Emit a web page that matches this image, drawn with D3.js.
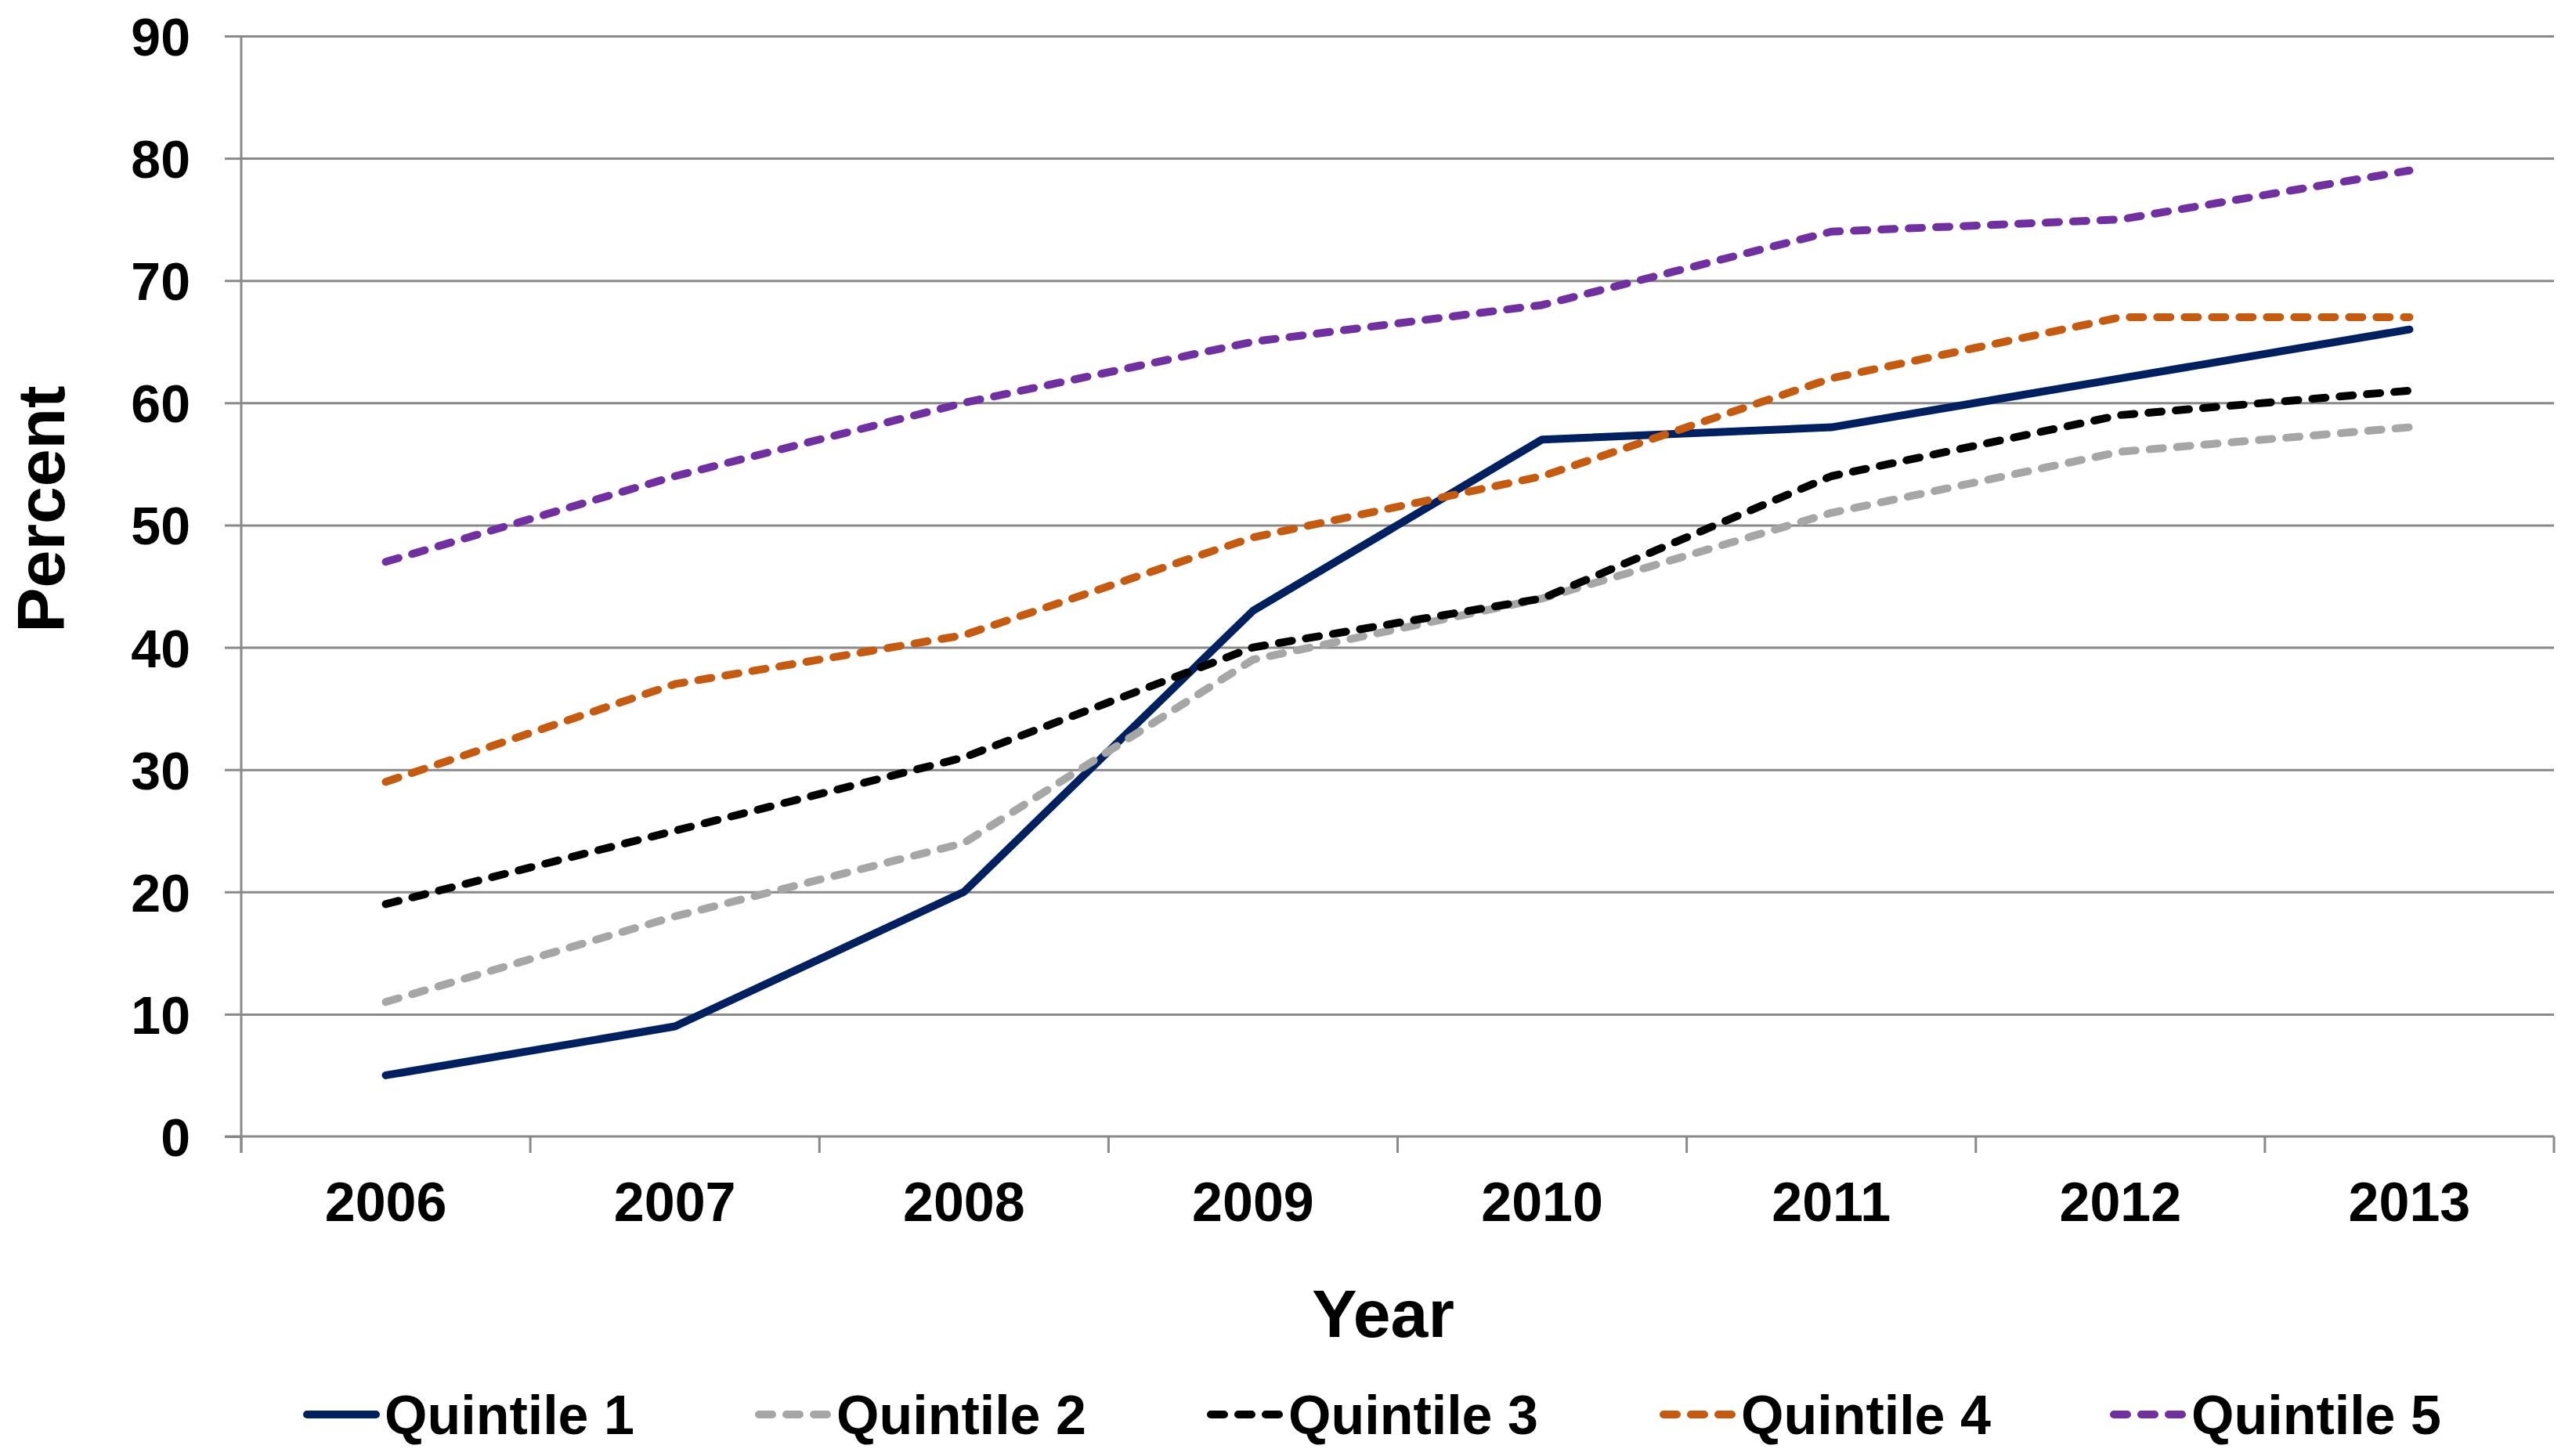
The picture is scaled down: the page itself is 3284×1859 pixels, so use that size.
<!DOCTYPE html>
<html>
<head>
<meta charset="utf-8">
<script src="https://cdn.jsdelivr.net/npm/d3@7"></script>
<style>
  html, body { margin: 0; padding: 0; background: #fff; }
  svg { display: block; }
  text { font-family: "Liberation Sans", Arial, sans-serif; font-weight: bold; fill: #000; }
</style>
</head>
<body>
<svg id="chart" width="3284" height="1859"></svg>
<script>
const years = ["2006", "2007", "2008", "2009", "2010", "2011", "2012", "2013"];
const yTicks = [0, 10, 20, 30, 40, 50, 60, 70, 80, 90];
const seriesNames = ["Quintile 1", "Quintile 2", "Quintile 3", "Quintile 4", "Quintile 5"];
const quintile1 = [5, 9, 20, 43, 57, 58, 62, 66];
const quintile2 = [11, 18, 24, 39, 44, 51, 56, 58];
const quintile3 = [19, 25, 31, 40, 44, 54, 59, 61];
const quintile4 = [29, 37, 41, 49, 54, 62, 67, 67];
const quintile5 = [47, 54, 60, 65, 68, 74, 75, 79];
const seriesValues = [quintile1, quintile2, quintile3, quintile4, quintile5];
const colors = ["#002060", "#A6A6A6", "#000000", "#C55A11", "#7030A0"];
const dashes = [null, "17,18", "17,18", "17,18", "17,18"];
const widths = [10, 10, 10, 10, 10];

const svg = d3.select("#chart");
const mLeft = 308, mRight = 3261, mTop = 46, mBottom = 1451;
const gridColor = "#898989";

const x = d3.scaleBand().domain(years).range([mLeft, mRight]).padding(0);
const y = d3.scaleLinear().domain([0, 90]).range([mBottom, mTop]);

// gridlines
const grid = svg.append("g").attr("transform", `translate(${mLeft},0)`)
  .call(d3.axisLeft(y).tickValues(yTicks.filter(v => v > 0)).tickSize(-(mRight - mLeft)).tickFormat(""));
grid.select(".domain").remove();
grid.selectAll("line").attr("stroke", gridColor).attr("stroke-width", 3);

// y axis
const yAxis = svg.append("g").attr("transform", `translate(${mLeft},0)`)
  .call(d3.axisLeft(y).tickValues(yTicks).tickSize(21).tickPadding(44).tickFormat(d3.format("d")));
yAxis.select(".domain").attr("stroke", gridColor).attr("stroke-width", 3)
  .attr("d", `M0,${mTop}V${mBottom + 21}`);
yAxis.selectAll(".tick line").attr("stroke", gridColor).attr("stroke-width", 3);
yAxis.selectAll(".tick text").style("font-size", "68px").attr("dy", "0.36em");

// x axis
const xAxis = svg.append("g").attr("transform", `translate(0,${mBottom})`)
  .call(d3.axisBottom(x).tickSize(0).tickPadding(58));
xAxis.select(".domain").attr("stroke", gridColor).attr("stroke-width", 3)
  .attr("d", `M${mLeft - 21},0H${mRight}`);
xAxis.selectAll(".tick text").style("font-size", "70px").attr("dy", "0.71em");
const boundaries = years.map(d => x(d)).concat([x.range()[1]]);
xAxis.selectAll("line.bound").data(boundaries).join("line")
  .attr("class", "bound")
  .attr("x1", d => d).attr("x2", d => d)
  .attr("y1", 0).attr("y2", 21)
  .attr("stroke", gridColor).attr("stroke-width", 3);

// lines
const line = d3.line()
  .x((d, i) => x(years[i]) + x.bandwidth() / 2)
  .y(d => y(d));
seriesValues.forEach((vals, k) => {
  svg.append("path")
    .datum(vals)
    .attr("d", line)
    .attr("fill", "none")
    .attr("stroke", colors[k])
    .attr("stroke-width", widths[k])
    .attr("stroke-linecap", "round")
    .attr("stroke-linejoin", "round")
    .attr("stroke-dasharray", dashes[k]);
});

// axis titles
svg.append("text")
  .attr("x", 1766).attr("y", 1707)
  .attr("text-anchor", "middle")
  .style("font-size", "86px")
  .text("Year");
svg.append("text")
  .attr("transform", "translate(82,650) rotate(-90)")
  .attr("text-anchor", "middle")
  .style("font-size", "86px")
  .text("Percent");

// legend
const legendX = [387, 964, 1541, 2119, 2694];
const legendY = 1806;
const lg = svg.append("g");
seriesNames.forEach((name, k) => {
  const g = lg.append("g").attr("transform", `translate(${legendX[k]},${legendY})`);
  g.append("line")
    .attr("x1", 5).attr("x2", 93).attr("y1", 0).attr("y2", 0)
    .attr("stroke", colors[k])
    .attr("stroke-width", widths[k])
    .attr("stroke-linecap", "round")
    .attr("stroke-dasharray", dashes[k]);
  g.append("text")
    .attr("x", 104).attr("y", 0).attr("dy", "0.36em")
    .style("font-size", "70px")
    .text(name);
});
</script>
</body>
</html>
